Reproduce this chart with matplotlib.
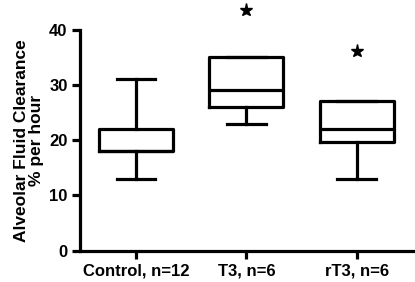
import matplotlib.pyplot as plt

plt.rcParams['font.family'] = 'Liberation Sans'
plt.rcParams['font.weight'] = 'bold'

# Box plot summary.
groups = ['Control, n=12', 'T3, n=6', 'rT3, n=6']
whislo = [13, 23, 13]
q1 = [18, 26, 19.7]
med = [18, 29, 22]
q3 = [22, 35, 27]
whishi = [31, 35, 27]
star_y = [None, 43.5, 36.2]

stats = []
for i in range(len(groups)):
    stats.append(dict(label=groups[i], whislo=whislo[i], q1=q1[i], med=med[i],
                      q3=q3[i], whishi=whishi[i], fliers=[]))

fig = plt.figure(figsize=(4.15, 2.82), dpi=100)
ax = fig.add_axes([0.193, 0.111, 0.802, 0.784])

lw = 2.3
ax.bxp(stats, positions=[1, 2, 3], widths=0.67, showfliers=False,
       boxprops=dict(color='black', linewidth=lw),
       medianprops=dict(color='black', linewidth=lw),
       whiskerprops=dict(color='black', linewidth=lw),
       capprops=dict(color='black', linewidth=lw),
       capwidths=0.35)

# Significance stars above the boxes.
for i, y in enumerate(star_y):
    if y is not None:
        ax.plot(i + 1, y, marker='*', color='black', markersize=9.5,
                linestyle='none', clip_on=False)

ax.set_xlim(0.493, 3.51)
ax.set_ylim(0, 40)
ax.set_yticks([0, 10, 20, 30, 40])
ax.spines['top'].set_visible(False)
ax.spines['right'].set_visible(False)
ax.spines['left'].set_linewidth(lw)
ax.spines['bottom'].set_linewidth(lw)
ax.tick_params(width=lw, length=6, labelsize=12, pad=3)
ax.set_xticklabels(groups, fontweight='bold')
ax.set_ylabel('Alveolar Fluid Clearance\n% per hour', fontsize=12.5,
              fontweight='bold', labelpad=4, linespacing=1.0)

fig.savefig('out.png', dpi=100)
